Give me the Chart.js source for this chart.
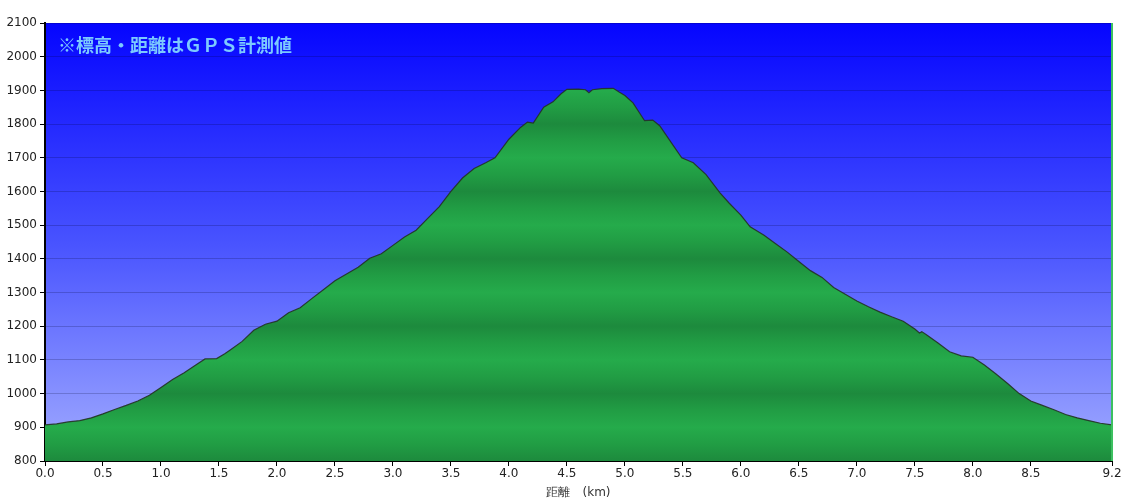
<!DOCTYPE html>
<html>
<head>
<meta charset="utf-8">
<script src="https://cdn.jsdelivr.net/npm/chart.js@4"></script>
<style>
  body { margin: 0; background: #fff; }
</style>
</head>
<body>
<canvas id="graficoPerfil" width="1125" height="501"></canvas>
<script>
// distancia (km) e altitude (m)
const distancias = [0, 0.1, 0.2, 0.3, 0.4, 0.5, 0.6, 0.7, 0.8, 0.9, 1.0, 1.1, 1.2, 1.3, 1.38, 1.48, 1.55, 1.6, 1.7, 1.8, 1.9,
  2.0, 2.1, 2.2, 2.3, 2.4, 2.5, 2.6, 2.7, 2.8, 2.9, 3.0, 3.1, 3.2, 3.3, 3.4, 3.5, 3.6, 3.7, 3.8, 3.88,
  4.0, 4.1, 4.16, 4.21, 4.3, 4.38, 4.45, 4.5, 4.6, 4.66, 4.69, 4.72, 4.8, 4.9, 4.95,
  5.0, 5.07, 5.17, 5.24, 5.3, 5.4, 5.49, 5.59, 5.7, 5.82, 5.9, 6.0, 6.08, 6.2, 6.3, 6.4, 6.5, 6.6, 6.7, 6.8, 6.9,
  7.0, 7.1, 7.2, 7.3, 7.4, 7.5, 7.54, 7.56, 7.6, 7.7, 7.8, 7.9, 8.0, 8.1, 8.2, 8.3, 8.4, 8.5, 8.6, 8.7, 8.8, 8.9,
  9.0, 9.1, 9.2];
const altitudes = [907, 910, 916, 920, 928, 940, 953, 965, 978, 995, 1018, 1042, 1062, 1085, 1103, 1104, 1118, 1130, 1155, 1188, 1206,
  1215, 1240, 1255, 1282, 1308, 1335, 1355, 1375, 1402, 1415, 1440, 1465, 1485, 1520, 1555, 1600, 1640, 1668, 1685, 1700,
  1755, 1790, 1806, 1803, 1850, 1866, 1890, 1903, 1904, 1902, 1893, 1902, 1905, 1906, 1895,
  1885, 1863, 1810, 1812, 1795, 1745, 1700, 1685, 1650, 1596, 1565, 1530, 1495, 1470, 1445, 1420, 1392, 1365, 1345, 1315, 1295,
  1275, 1258, 1242, 1228, 1215, 1192, 1180, 1184, 1175, 1150, 1124, 1112, 1108, 1085, 1058, 1030, 1000, 978, 965, 952, 938, 928,
  920, 912, 907];

const ticksX = [0, 0.5, 1.0, 1.5, 2.0, 2.5, 3.0, 3.5, 4.0, 4.5, 5.0, 5.5, 6.0, 6.5, 7.0, 7.5, 8.0, 8.5, 9.2];
const ticksY = [800, 900, 1000, 1100, 1200, 1300, 1400, 1500, 1600, 1700, 1800, 1900, 2000, 2100];

const titulo = '※標高・距離はＧＰＳ計測値';
const tituloEixoX = '距離　(km)';

const pontos = distancias.map((d, i) => ({ x: d, y: altitudes[i] }));

// faixas verdes: escuro nas centenas pares, claro nas impares
function verdeFaixas(context) {
  const chart = context.chart;
  const area = chart.chartArea;
  if (!area) return '#22a84a';
  const y = chart.scales.y;
  const g = chart.ctx.createLinearGradient(0, area.top, 0, area.bottom);
  const h = area.bottom - area.top;
  for (let v = 800; v <= 2100; v += 50) {
    const p = Math.min(1, Math.max(0, (y.getPixelForValue(v) - area.top) / h));
    let cor;
    if (v % 200 === 0) cor = '#1d8a3d';
    else if (v % 100 === 0) cor = '#25ab4b';
    else cor = '#219d44';
    g.addColorStop(p, cor);
  }
  return g;
}

const fundoPlugin = {
  id: 'fundo',
  beforeDraw(chart) {
    const { ctx, chartArea } = chart;
    const g = ctx.createLinearGradient(0, chartArea.top, 0, chartArea.bottom);
    g.addColorStop(0, '#0505ff');
    g.addColorStop(0.5, '#4853ff');
    g.addColorStop(1, '#a2acff');
    ctx.save();
    ctx.fillStyle = g;
    ctx.fillRect(chartArea.left, chartArea.top, chartArea.right - chartArea.left, chartArea.bottom - chartArea.top);
    ctx.restore();
  },
  afterDraw(chart) {
    const { ctx, chartArea } = chart;
    ctx.save();
    ctx.strokeStyle = '#3cc060';
    ctx.lineWidth = 2;
    ctx.beginPath();
    ctx.moveTo(chartArea.right, chartArea.top);
    ctx.lineTo(chartArea.right, chartArea.bottom);
    ctx.stroke();
    ctx.font = 'bold 18px "Noto Sans CJK JP"';
    ctx.fillStyle = '#7ccaff';
    ctx.textBaseline = 'middle';
    ctx.fillText(titulo, chartArea.left + 13, chartArea.top + 22);
    ctx.restore();
  }
};

const ctxPerfil = document.getElementById('graficoPerfil').getContext('2d');
const graficoPerfil = new Chart(ctxPerfil, {
  type: 'line',
  data: {
    datasets: [{
      data: pontos,
      fill: 'start',
      backgroundColor: verdeFaixas,
      borderColor: 'rgba(35,50,35,0.9)',
      borderWidth: 1.2,
      pointRadius: 0,
      tension: 0
    }]
  },
  options: {
    responsive: false,
    animation: false,
    layout: { padding: { top: 23, right: 13, left: 0, bottom: 0 } },
    plugins: {
      legend: { display: false },
      tooltip: { enabled: false }
    },
    scales: {
      x: {
        type: 'linear',
        min: 0,
        max: 9.2,
        z: 1,
        afterBuildTicks: s => { s.ticks = ticksX.map(v => ({ value: v })); },
        afterFit: s => { s.height = 40; },
        ticks: {
          color: '#222',
          font: { family: 'DejaVu Sans', size: 12 },
          padding: 1,
          maxRotation: 0,
          autoSkip: false,
          callback: v => v.toFixed(1)
        },
        grid: { drawOnChartArea: false, tickColor: '#000', tickLength: 5 },
        border: { color: '#000', width: 2 },
        title: {
          display: true,
          text: tituloEixoX,
          color: '#333',
          font: { family: 'DejaVu Sans', size: 12 },
          padding: { top: 0, bottom: 1 }
        }
      },
      y: {
        min: 800,
        max: 2100,
        z: 1,
        afterBuildTicks: s => { s.ticks = ticksY.map(v => ({ value: v })); },
        afterFit: s => { s.width = 45; },
        ticks: {
          color: '#222',
          font: { family: 'DejaVu Sans', size: 12 },
          padding: 3,
          callback: v => String(v)
        },
        grid: { color: 'rgba(0,0,40,0.2)', tickColor: '#000', tickLength: 5 },
        border: { color: '#000', width: 2 }
      }
    }
  },
  plugins: [fundoPlugin]
});
</script>
</body>
</html>
